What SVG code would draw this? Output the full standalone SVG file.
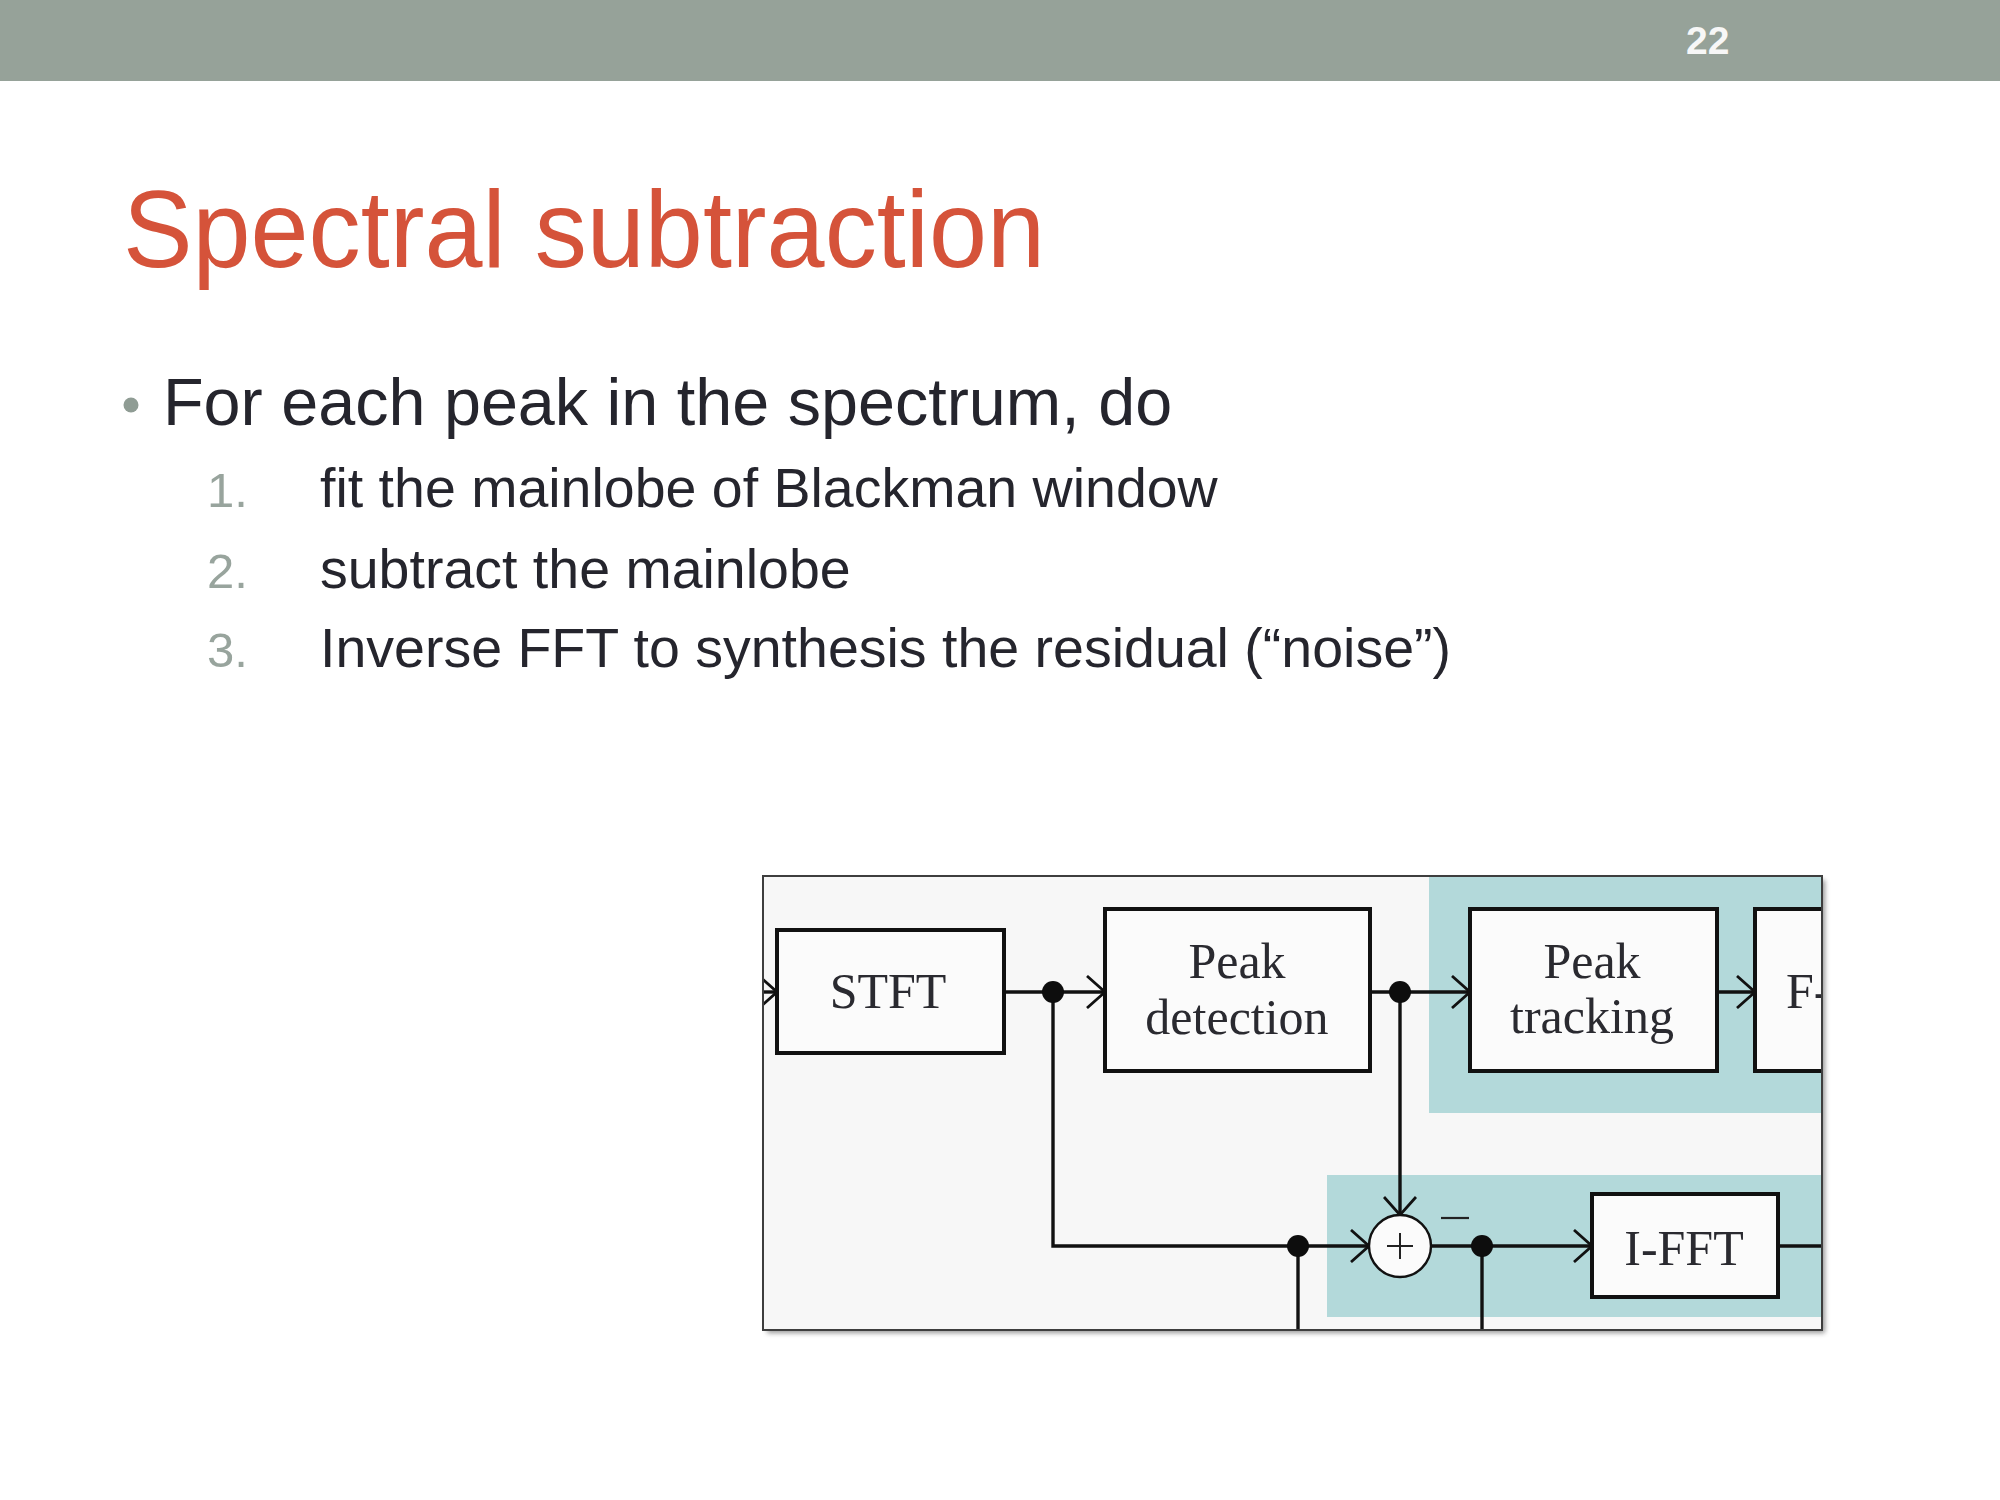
<svg xmlns="http://www.w3.org/2000/svg" width="2000" height="1500" viewBox="0 0 2000 1500">
<defs>
<style>
.sans{font-family:"Liberation Sans",Arial,sans-serif}
.body{font-family:"Liberation Sans",Arial,sans-serif;font-size:55.5px;fill:#25252d}
.num{font-family:"Liberation Sans",Arial,sans-serif;font-size:49px;fill:#98a49d}
.box{fill:#fbfbfb;stroke:#111;stroke-width:4}
.ln{fill:none;stroke:#111;stroke-width:3.4}
.lbl{font-family:"Liberation Serif","DejaVu Serif",serif;font-size:50px;fill:#2a2a30;text-anchor:middle}
.dot{fill:#0d0d0d}
.teal{fill:#b3d9da}
</style>
<marker id="arr" viewBox="0 0 20 34" refX="19" refY="17" markerWidth="20" markerHeight="34" markerUnits="userSpaceOnUse" orient="auto">
<path d="M1,1 L19,17 L1,33" fill="none" stroke="#111" stroke-width="2.8"/>
</marker>
<clipPath id="clip"><rect x="764" y="877" width="1057" height="452"/></clipPath>
<filter id="blur" x="-5%" y="-5%" width="110%" height="110%"><feGaussianBlur stdDeviation="2.5"/></filter>
</defs>

<rect x="0" y="0" width="2000" height="1500" fill="#ffffff"/>
<g id="header">
<rect x="0" y="0" width="2000" height="81" fill="#96a299"/>
<text x="1686" y="54" class="sans" font-size="39" font-weight="bold" fill="#f7f7f7">22</text>
</g>

<g id="title">
<text x="123" y="267" class="sans" font-size="110" fill="#d5533a" textLength="922" lengthAdjust="spacingAndGlyphs">Spectral subtraction</text>
</g>

<g id="bullets">
<circle cx="131" cy="405" r="7.5" fill="#8f9c94"/>
<text x="163" y="425" class="sans" font-size="66.5" fill="#25252d">For each peak in the spectrum, do</text>
<text x="207" y="507" class="num">1.</text>
<text x="320" y="507" class="body">fit the mainlobe of Blackman window</text>
<text x="207" y="588" class="num">2.</text>
<text x="320" y="588" class="body">subtract the mainlobe</text>
<text x="207" y="667" class="num">3.</text>
<text x="320" y="667" class="body">Inverse FFT to synthesis the residual (“noise”)</text>
</g>

<g id="figure">
<rect x="767" y="880" width="1058" height="453" fill="#6a6a6a" opacity="0.7" filter="url(#blur)"/>
<rect x="763" y="876" width="1059" height="454" fill="#f7f7f7" stroke="#3e3e3e" stroke-width="2"/>
<g clip-path="url(#clip)">
<rect id="region-top" class="teal" x="1429" y="877" width="395" height="236"/>
<rect id="region-bottom" class="teal" x="1327" y="1175" width="497" height="142"/>

<g id="connectors">
<line class="ln" x1="750" y1="992" x2="777" y2="992" marker-end="url(#arr)"/>
<line class="ln" x1="1004" y1="992" x2="1105" y2="992" marker-end="url(#arr)"/>
<path class="ln" d="M1053,992 V1246 H1369" marker-end="url(#arr)"/>
<line class="ln" x1="1298" y1="1246" x2="1298" y2="1332"/>
<line class="ln" x1="1370" y1="992" x2="1470" y2="992" marker-end="url(#arr)"/>
<line class="ln" x1="1400" y1="992" x2="1400" y2="1215" marker-end="url(#arr)"/>
<line class="ln" x1="1717" y1="992" x2="1755" y2="992" marker-end="url(#arr)"/>
<line class="ln" x1="1431" y1="1246" x2="1592" y2="1246" marker-end="url(#arr)"/>
<line class="ln" x1="1482" y1="1246" x2="1482" y2="1332"/>
<line class="ln" x1="1778" y1="1246" x2="1830" y2="1246"/>
<circle class="dot" cx="1053" cy="992" r="11"/>
<circle class="dot" cx="1400" cy="992" r="11"/>
<circle class="dot" cx="1298" cy="1246" r="11"/>
<circle class="dot" cx="1482" cy="1246" r="11"/>
<line x1="1441" y1="1218" x2="1469" y2="1218" stroke="#222" stroke-width="2.2"/>
</g>

<g id="stft">
<rect class="box" x="777" y="930" width="227" height="123"/>
<text class="lbl" x="888" y="1008">STFT</text>
</g>
<g id="peak-detection">
<rect class="box" x="1105" y="909" width="265" height="162"/>
<text class="lbl" x="1237" y="978">Peak</text>
<text class="lbl" x="1237" y="1034">detection</text>
</g>
<g id="peak-tracking">
<rect class="box" x="1470" y="909" width="247" height="162"/>
<text class="lbl" x="1592" y="978">Peak</text>
<text class="lbl" x="1592" y="1033">tracking</text>
</g>
<g id="f-box">
<rect class="box" x="1755" y="909" width="140" height="162"/>
<text class="lbl" x="1786" y="1008" style="text-anchor:start">F-</text>
</g>
<g id="sum">
<circle cx="1400" cy="1246" r="31" fill="#fbfbfb" stroke="#111" stroke-width="2.4"/>
<line x1="1387" y1="1246" x2="1413" y2="1246" stroke="#222" stroke-width="2"/>
<line x1="1400" y1="1233" x2="1400" y2="1259" stroke="#222" stroke-width="2"/>
</g>
<g id="ifft">
<rect class="box" x="1592" y="1194" width="186" height="103"/>
<text class="lbl" x="1684" y="1265">I-FFT</text>
</g>
</g>
</g>
</svg>
